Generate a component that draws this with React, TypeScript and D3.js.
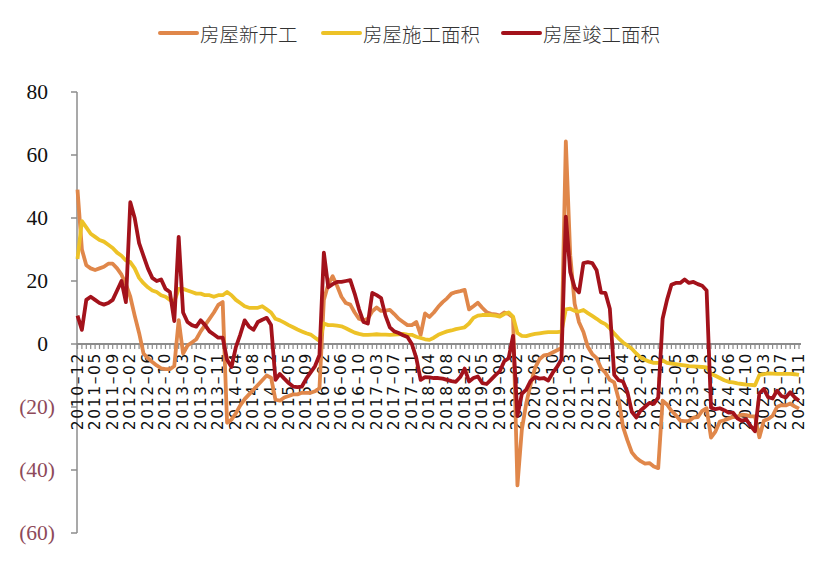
import * as d3 from 'd3'

// monthly cumulative YoY (%), Jan merged into Feb, 2010-12 .. 2025-11
const months: string[] = ['2010–12']
for (let y = 2011; y <= 2025; y++) {
  for (let m = 2; m <= 12; m++) {
    if (y === 2025 && m > 11) break
    months.push(`${y}–${String(m).padStart(2, '0')}`)
  }
}

const newStarts = [
  49, 30, 25, 24, 23.5, 24, 24.5, 25.5, 25.5, 24, 22, 19,
  15, 9, 3.5, -3, -4.5, -5.7, -6.8, -7.7, -8, -8, -7,
  7.6, -3, -0.5, 0.5, 1.5, 4, 6, 8, 10, 12.4, 13.3,
  -25, -24, -22, -19.5, -17.5, -16, -14.5, -13, -11.5, -10, -10.7,
  -17.7, -18, -17, -16.5, -16, -16, -15.5, -15.5, -15.5, -15, -14,
  14, 19, 21.5, 18.5, 15, 13, 12.5, 10, 8, 7.5, 8,
  10.4, 11.6, 10.5, 10.6, 10.8, 9.5, 8, 7, 6, 6, 7,
  2.9, 9.7, 8.6, 10, 11.8, 13.3, 14.5, 16, 16.5, 16.8, 17.2,
  11, 12, 13.1, 11.5, 10.1, 9.6, 9.4, 9, 10, 9.5, 8.5,
  -44.9, -27.2, -18.8, -12.8, -7.6, -4.9, -3.6, -3.4, -2.7, -2, -1.2,
  64.3, 28.2, 12.8, 6.9, 3.8, -0.9, -3.2, -4.5, -7.7, -9.1, -11.4,
  -12.2, -17.5, -26.3, -30.6, -34.4, -36.1, -37.2, -38, -37.8, -38.9, -39.4,
  -18, -19.2, -21.2, -22.6, -24.3, -24.5, -24.4, -23.4, -23.2, -21.2, -20.4,
  -29.7, -27.8, -24.6, -24.2, -23.7, -23.2, -23.1, -22.4, -22.6, -23, -23,
  -29.6, -24.4, -23.8, -22.8, -20, -19.4, -19.5, -18.9, -19.8, -20.5,
]

const underConstruction = [
  27, 39, 37, 35, 34, 33, 32.5, 31.5, 30.5, 29, 28, 26.5,
  26, 24, 21, 19.3, 18, 17, 16.5, 15.5, 15, 14, 13.5,
  17.5, 17.5, 17, 16.5, 16, 16, 15.5, 15.5, 15, 15.5, 15.5,
  16.5, 15.5, 14, 13, 12, 11.5, 11.5, 11.5, 12, 11, 10,
  8, 7.5, 6.8, 6, 5.3, 4.6, 4, 3.4, 3, 2, 1,
  6.5, 6, 6, 5.8, 5.6, 5, 4.3, 3.6, 3.2, 2.9, 2.9,
  3, 3.1, 3, 3, 2.9, 3, 3.1, 3.2, 3, 2.9, 2.3,
  1.9, 1.5, 1.3, 2, 2.9, 3.5, 4, 4.3, 4.7, 5, 5.3,
  6.5, 8.3, 9, 9.2, 9.2, 9.2, 9, 8.7, 9.5, 10, 8.7,
  3.5, 2.6, 2.5, 2.9, 3.2, 3.4, 3.6, 3.8, 3.8, 3.8, 3.9,
  11, 11.2, 10.5, 10.3, 10.8, 9.8, 8.9, 8, 7, 6.3, 5,
  3.3, 1.8, 0.5, -0.5, -1.5, -3, -4.3, -5, -5.6, -6, -6,
  -5.2, -6, -6.2, -6.4, -6.6, -6.8, -7, -7.1, -7.2, -7.3, -7.4,
  -9.5, -10.1, -10.8, -11.5, -12, -12.2, -12.5, -12.7, -12.9, -13, -13.1,
  -9.8, -9.6, -9.3, -9.4, -9.5, -9.5, -9.5, -9.5, -9.6, -9.8,
]

const completed = [
  9, 4.5, 14, 15, 14, 13, 12.5, 13, 14, 17, 20, 13.3,
  45, 40, 32, 28, 24, 21, 20, 20.5, 17.5, 16.5, 7.3,
  34, 10, 7, 6, 5.5, 7.5, 6, 4, 3, 2, 2,
  -5, -7.3, -1, 3, 7.5, 5.5, 4.5, 7, 7.7, 8.3, 6,
  -11.4, -9.5, -11, -12.4, -13.5, -13.7, -13.5, -11, -9, -7, -3.5,
  29, 18, 19, 19.7, 19.7, 20, 20.3, 16, 11, 7, 6.5,
  16.2, 15.5, 14.6, 9, 5.3, 4, 3.5, 2.8, 2.2, 0, -4.4,
  -11.4, -10.5, -10.6, -10.8, -10.8, -11, -11.4, -11.8, -12, -10.5, -7.8,
  -11.9, -10.8, -10.3, -12.4, -12.7, -11.3, -9.9, -8.6, -5.5, -4.5, 2.6,
  -22.9, -15.8, -14.5, -11.7, -10.5, -11, -10.8, -11.6, -9.2, -7.3, -4.9,
  40.4, 22.9, 17.9, 16.4, 25.7, 26, 25.7, 23.4, 16.3, 16.2, 11.2,
  -9.8, -11.5, -11.9, -15.3, -21.5, -23.3, -21.1, -19.9, -18.7, -19, -17,
  8, 14, 18.8, 19.4, 19.4, 20.5, 19.4, 19.7, 19, 18.5, 17,
  -20.2, -20.7, -20.4, -21, -21.8, -21.8, -23.6, -24.4, -23.9, -26, -27.7,
  -15.6, -14.3, -16.9, -17.3, -14.8, -16.5, -17, -15.3, -16.9, -18,
]

const series = [
  { name: '房屋新开工', values: newStarts, color: '#E0874A' },
  { name: '房屋施工面积', values: underConstruction, color: '#EDC227' },
  { name: '房屋竣工面积', values: completed, color: '#A3121B' },
]

const yTicks = [80, 60, 40, 20, 0, -20, -40, -60]
const xLabels = months.filter((_, i) => i % 4 === 0)

const legendPos = [160, 323, 503]

export default function App() {
  const width = 822
  const height = 561

  const x = d3.scalePoint<string>().domain(months).range([77.5, 799])
  const y = d3.scaleLinear().domain([-60, 80]).range([533, 92])

  const line = d3.line<number>()
    .x((_, i) => x(months[i]) as number)
    .y(d => y(d))

  const axisColor = '#8c8c8c'

  return (
    <svg width={width} height={height} style={{ position: 'absolute', left: 0, top: 0, background: '#fff' }}>
      {/* y axis */}
      <line x1={77} x2={77} y1={y(80)} y2={y(-60)} stroke={axisColor} strokeWidth={1.5} />
      {yTicks.map(t => (
        <g key={t}>
          <line x1={71} x2={77} y1={y(t)} y2={y(t)} stroke={axisColor} strokeWidth={1.5} />
          <text
            x={t < 0 ? 55 : 48}
            y={y(t)}
            textAnchor="end"
            dominantBaseline="central"
            fontFamily="'Liberation Serif', serif"
            fontSize={21.5}
            fill={t < 0 ? '#8E4A5A' : '#111'}
          >
            {t < 0 ? `(${-t})` : t}
          </text>
        </g>
      ))}

      {/* x axis at zero */}
      <line x1={77} x2={801} y1={y(0)} y2={y(0)} stroke={axisColor} strokeWidth={2} />
      {months.map(m => (
        <line key={m} x1={x(m)} x2={x(m)} y1={y(0)} y2={y(0) + 5} stroke={axisColor} strokeWidth={1.2} />
      ))}
      {xLabels.map(m => (
        <text
          key={m}
          transform={`translate(${x(m)},${y(0) + 8}) rotate(-90)`}
          textAnchor="end"
          dominantBaseline="central"
          fontFamily="'DejaVu Sans', sans-serif"
          fontSize={15.5}
          letterSpacing={1.6}
          fill="#111"
        >
          {m}
        </text>
      ))}

      {/* series */}
      {series.map(s => (
        <path
          key={s.name}
          d={line(s.values) ?? ''}
          fill="none"
          stroke={s.color}
          strokeWidth={3.8}
          strokeLinejoin="round"
        />
      ))}

      {/* legend */}
      {series.map((s, i) => (
        <g key={s.name} transform={`translate(${legendPos[i]},33)`}>
          <line x1={0} x2={37} y1={0} y2={0} stroke={s.color} strokeWidth={4} strokeLinecap="round" />
          <text
            x={40}
            y={0}
            dominantBaseline="central"
            fontFamily="'Noto Sans CJK SC', sans-serif"
            fontWeight={300}
            fontSize={19.5}
            fill="#333"
          >
            {s.name}
          </text>
        </g>
      ))}
    </svg>
  )
}
